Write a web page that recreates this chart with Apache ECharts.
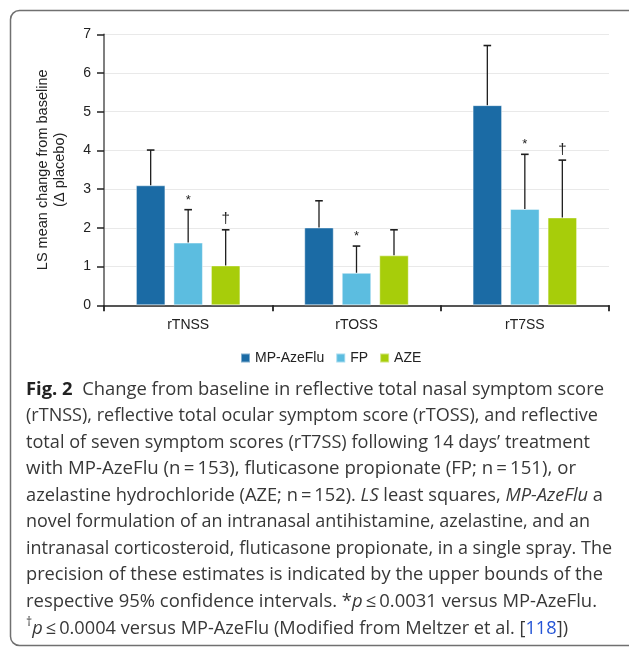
<!DOCTYPE html>
<html>
<head>
<meta charset="utf-8">
<script src="https://cdn.jsdelivr.net/npm/echarts@6/dist/echarts.min.js"></script>
<style>
html,body{margin:0;padding:0;background:#fff;}
#chart{width:629px;height:648px;}
</style>
</head>
<body>
<div id="chart"></div>
<script>
// ---- data ----
const categories = ['rTNSS', 'rTOSS', 'rT7SS'];
const seriesNames = ['MP-AzeFlu', 'FP', 'AZE'];
const mpValues = [3.10, 2.01, 5.17];
const mpUpper = [4.01, 2.70, 6.71];
const fpValues = [1.62, 0.84, 2.49];
const fpUpper = [2.47, 1.53, 3.90];
const azeValues = [1.03, 1.29, 2.27];
const azeUpper = [1.95, 1.95, 3.75];
const mpMarks = ['', '', ''];
const fpMarks = ['*', '*', '*'];
const azeMarks = ['\u2020', '', '\u2020'];
const yMin = 0, yMax = 7, yInterval = 1;
const yAxisName = 'LS mean change from baseline\n(\u0394 placebo)';

// caption lines: [style, text] segments
const captionLines = [
  [['b', 'Fig. 2'], ['n', '  Change from baseline in reflective total nasal symptom score']],
  [['n', '(rTNSS), reflective total ocular symptom score (rTOSS), and reflective']],
  [['n', 'total of seven symptom scores (rT7SS) following 14 days\u2019 treatment']],
  [['n', 'with MP-AzeFlu (n\u2009=\u2009153), fluticasone propionate (FP; n\u2009=\u2009151), or']],
  [['n', 'azelastine hydrochloride (AZE; n\u2009=\u2009152). '], ['i', 'LS'], ['n', ' least squares, '], ['i', 'MP-AzeFlu'], ['n', ' a']],
  [['n', 'novel formulation of an intranasal antihistamine, azelastine, and an']],
  [['n', 'intranasal corticosteroid, fluticasone propionate, in a single spray. The']],
  [['n', 'precision of these estimates is indicated by the upper bounds of the']],
  [['n', 'respective 95% confidence intervals. *'], ['i', 'p'], ['n', '\u2009\u2264\u20090.0031 versus MP-AzeFlu.']],
  [['s', '\u2020'], ['i', 'p'], ['n', '\u2009\u2264\u20090.0004 versus MP-AzeFlu (Modified from Meltzer et al. ['], ['l', '118'], ['n', '])']]
];
const captionLineEnds = [604, 598, 590, 576, 603, 590, 612, 603, 597, 568];

// ---- styles ----
const colors = ['#1b6ba5', '#5cbde0', '#a7cd0a'];
const barW = 29.5, barGapPx = 8;
const capFont = '"Open Sans"';
const capSize = 18;
const capColor = '#383838';
const richStyles = {
  n: {fontFamily: capFont, fontSize: capSize, fill: capColor, lineHeight: 24},
  b: {fontFamily: capFont, fontSize: capSize, fontWeight: 'bold', fill: '#222', lineHeight: 24},
  i: {fontFamily: capFont, fontSize: capSize, fontStyle: 'italic', fill: capColor, lineHeight: 24},
  l: {fontFamily: capFont, fontSize: capSize, fill: '#2454d6', lineHeight: 24},
  s: {fontFamily: capFont, fontSize: 12, fill: capColor, lineHeight: 24, verticalAlign: 'top'}
};

const mctx = document.createElement('canvas').getContext('2d');
function segWidth(st, txt) {
  const r = richStyles[st];
  mctx.font = (r.fontStyle || 'normal') + ' ' + (r.fontWeight || 'normal') + ' ' + r.fontSize + 'px ' + r.fontFamily;
  return mctx.measureText(txt).width;
}

const capX = 26, capY0 = 389.5, capLH = 26.55;
const captionGraphics = captionLines.map(function (segs, k) {
  const natural = segs.reduce(function (a, s) { return a + segWidth(s[0], s[1]); }, 0);
  const sx = (captionLineEnds[k] - capX) / natural;
  return {
    type: 'text', x: capX, y: capY0 + k * capLH, scaleX: sx, z: 10,
    style: {
      text: segs.map(function (s) { return '{' + s[0] + '|' + s[1] + '}'; }).join(''),
      rich: richStyles, x: 0, y: 0, align: 'left', verticalAlign: 'middle',
      fill: capColor, font: capSize + 'px ' + capFont
    }
  };
});

function errSeries(idx, vals, ups, marks) {
  return {
    type: 'custom', name: 'err' + idx, z: 5, silent: true,
    data: vals.map(function (v, i) { return [i, v, ups[i]]; }),
    encode: {x: 0, y: [1, 2]},
    renderItem: function (params, api) {
      const c = api.value(0);
      const p0 = api.coord([c, api.value(1)]);
      const p1 = api.coord([c, api.value(2)]);
      const x = p0[0] + (idx - 1) * (barW + barGapPx);
      const children = [
        {type: 'line', shape: {x1: x, y1: p0[1], x2: x, y2: p1[1]}, style: {stroke: '#1e1e1e', lineWidth: 1.3}},
        {type: 'line', shape: {x1: x - 3.8, y1: p1[1], x2: x + 3.8, y2: p1[1]}, style: {stroke: '#1e1e1e', lineWidth: 1.6}}
      ];
      const m = marks[params.dataIndex];
      if (m) {
        children.push({type: 'text', style: {text: m, x: x, y: p1[1] - 3, align: 'center', verticalAlign: 'bottom',
          fill: '#222', font: (m === '*' ? '13px' : '15px') + ' "Liberation Sans"'}});
      }
      return {type: 'group', children: children};
    }
  };
}

const chart = echarts.init(document.getElementById('chart'), null, {renderer: 'canvas'});
const labelFont = {fontFamily: 'Liberation Sans', fontSize: 14, color: '#222'};
chart.setOption({
  backgroundColor: '#ffffff',
  animation: false,
  grid: {left: 104, right: 20, top: 34.3, bottom: 342.7, containLabel: false},
  legend: {
    data: seriesNames, left: 240, top: 351, padding: 0, icon: 'rect', itemWidth: 9, itemHeight: 9, itemGap: 11,
    textStyle: {fontFamily: 'Liberation Sans', fontSize: 14, color: '#222'}, selectedMode: false
  },
  xAxis: {
    type: 'category', data: categories,
    axisLine: {lineStyle: {color: '#555', width: 1.8}},
    axisTick: {show: true, length: 6, lineStyle: {color: '#222', width: 1.8}, alignWithLabel: false},
    axisLabel: Object.assign({margin: 13}, labelFont),
    splitLine: {show: false}
  },
  yAxis: {
    type: 'value', min: yMin, max: yMax, interval: yInterval,
    name: yAxisName, nameLocation: 'middle', nameRotate: 90, nameGap: 36,
    nameTextStyle: {fontFamily: 'Liberation Sans', fontSize: 14.5, color: '#222', lineHeight: 16.5},
    axisLine: {show: true, lineStyle: {color: '#555', width: 1.5}},
    axisTick: {show: true, length: 7, lineStyle: {color: '#222', width: 1.5}},
    axisLabel: Object.assign({margin: 13}, labelFont),
    splitLine: {lineStyle: {color: '#e9e9e9', width: 1}}
  },
  series: [
    {name: seriesNames[0], type: 'bar', data: mpValues, barWidth: barW, barGap: (barGapPx / barW * 100) + '%',
      itemStyle: {color: colors[0], borderColor: 'rgba(255,255,255,0.45)', borderWidth: 1}},
    {name: seriesNames[1], type: 'bar', data: fpValues, barWidth: barW, barGap: (barGapPx / barW * 100) + '%',
      itemStyle: {color: colors[1], borderColor: 'rgba(255,255,255,0.45)', borderWidth: 1}},
    {name: seriesNames[2], type: 'bar', data: azeValues, barWidth: barW, barGap: (barGapPx / barW * 100) + '%',
      itemStyle: {color: colors[2], borderColor: 'rgba(255,255,255,0.45)', borderWidth: 1}},
    errSeries(0, mpValues, mpUpper, mpMarks),
    errSeries(1, fpValues, fpUpper, fpMarks),
    errSeries(2, azeValues, azeUpper, azeMarks)
  ],
  graphic: [
    {type: 'rect', shape: {x: 10.5, y: 10.5, width: 626, height: 635, r: 9}, style: {fill: 'none', stroke: '#707070', lineWidth: 1.5}, z: 0}
  ].concat(captionGraphics)
});
</script>
</body>
</html>
